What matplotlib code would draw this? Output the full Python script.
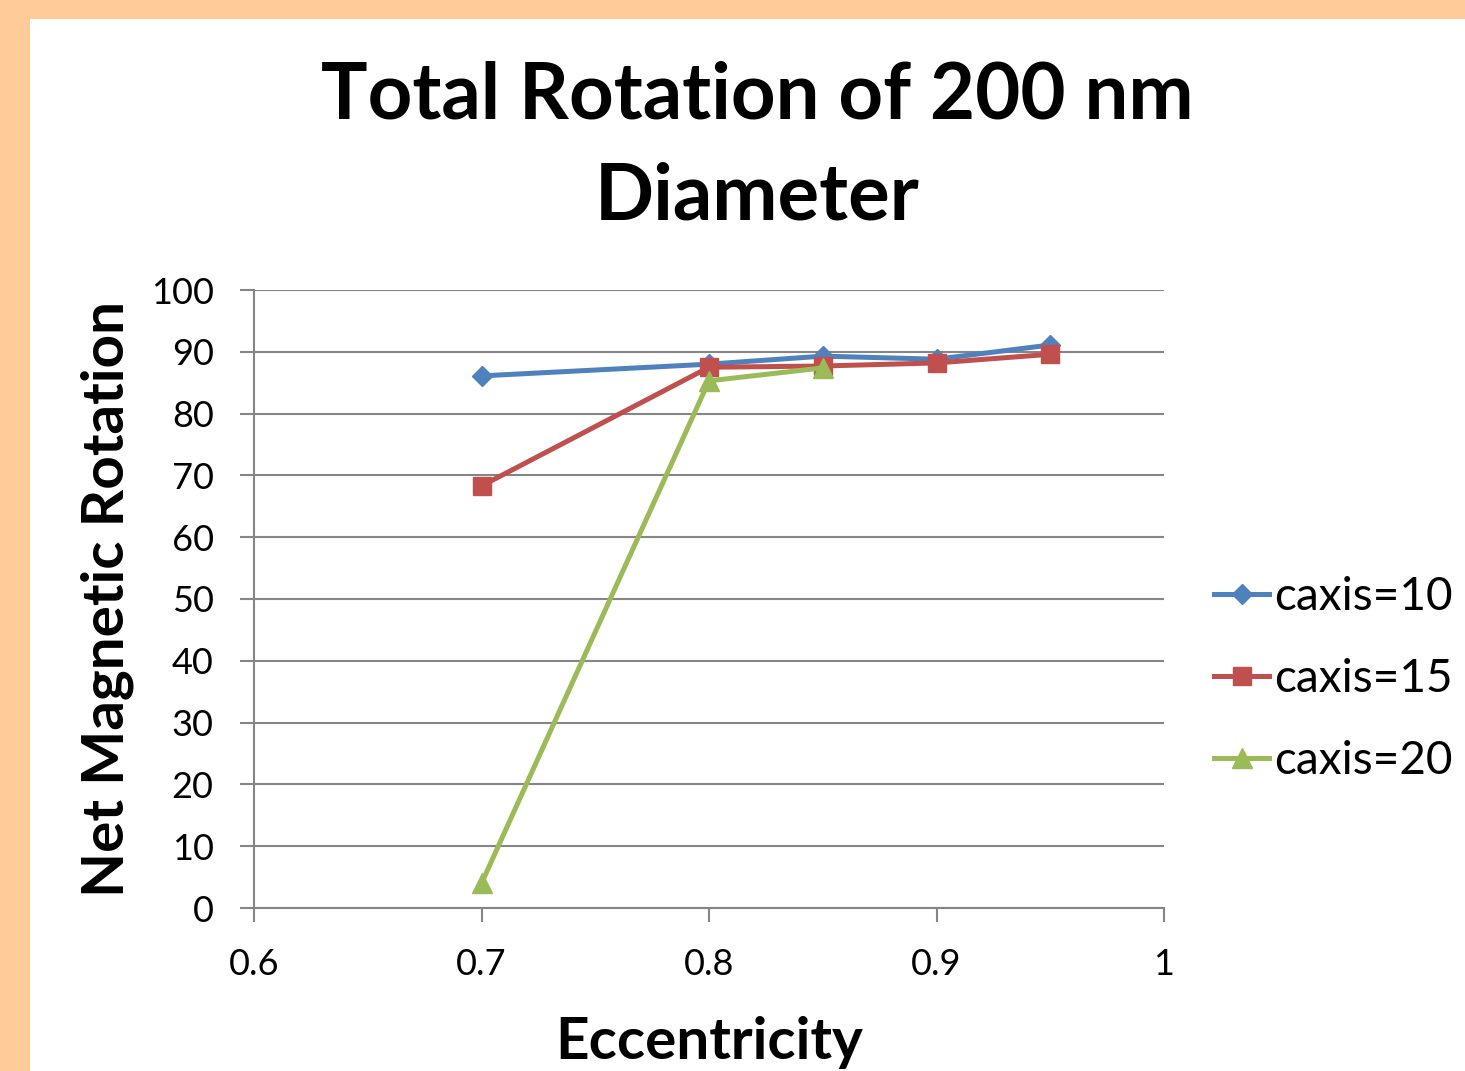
import matplotlib.pyplot as plt
from matplotlib.patches import Rectangle

plt.rcParams['font.family'] = ['Lato', 'DejaVu Sans']

# eccentricity values and net rotation per c-axis setting
ecc_10 = [0.7, 0.8, 0.85, 0.9, 0.95]
rot_10 = [86.1, 88.0, 89.3, 88.8, 91.1]
ecc_15 = [0.7, 0.8, 0.85, 0.9, 0.95]
rot_15 = [68.3, 87.5, 87.7, 88.2, 89.6]
ecc_20 = [0.7, 0.8, 0.85]
rot_20 = [4.0, 85.3, 87.4]
labels = ["caxis=10", "caxis=15", "caxis=20"]

fig = plt.figure(figsize=(14.65, 10.71), dpi=100)
fig.patch.set_facecolor("#FFCC99")
# white panel inside the peach border
fig.patches.append(Rectangle((30 / 1465, 0), 1 - 30 / 1465, 1 - 19 / 1071,
                             transform=fig.transFigure, facecolor="white",
                             edgecolor="none", zorder=-10))

ax = fig.add_axes([254 / 1465, 163 / 1071, 910 / 1465, 618 / 1071])
ax.set_facecolor("none")

ax.plot(ecc_10, rot_10, color="#4F81BD", lw=3.6, marker="D", ms=10,
        label=labels[0], zorder=3)
ax.plot(ecc_15, rot_15, color="#C0504D", lw=3.6, marker="s", ms=13,
        label=labels[1], zorder=4)
ax.plot(ecc_20, rot_20, color="#9BBB59", lw=3.6, marker="^", ms=14,
        label=labels[2], zorder=5)

ax.set_xlim(0.6, 1.0)
ax.set_ylim(0, 100)
ax.set_xticks([0.6, 0.7, 0.8, 0.9, 1.0])
ax.set_xticklabels(["0.6", "0.7", "0.8", "0.9", "1"])
ax.set_yticks(range(0, 101, 10))
ax.grid(axis="y", color="#868686", lw=1.5, zorder=1)
ax.set_axisbelow(True)

for side in ["top", "right"]:
    ax.spines[side].set_visible(False)
for side in ["left", "bottom"]:
    ax.spines[side].set_color("#868686")
    ax.spines[side].set_linewidth(1.5)
ax.tick_params(axis="both", colors="#868686", width=1.5, length=10,
               labelsize=26, labelcolor="black")
ax.tick_params(axis="x", pad=19)
ax.tick_params(axis="y", pad=19)

ax.set_xlabel("Eccentricity", fontsize=42, fontweight="bold", labelpad=25)
ax.set_ylabel("Net Magnetic Rotation", fontsize=42, fontweight="bold",
              labelpad=12)

fig.text(757 / 1465, 1 - 147 / 1071, "Total Rotation of 200 nm\nDiameter",
         ha="center", va="center", fontsize=56, fontweight="bold",
         linespacing=1.5)

ax.legend(loc="center left", bbox_to_anchor=(1.055, 0.37), frameon=False,
          fontsize=33, handlelength=1.2, handletextpad=0.1,
          labelspacing=0.87, borderaxespad=0, borderpad=0)

fig.savefig("out.png", dpi=100, facecolor=fig.get_facecolor())
